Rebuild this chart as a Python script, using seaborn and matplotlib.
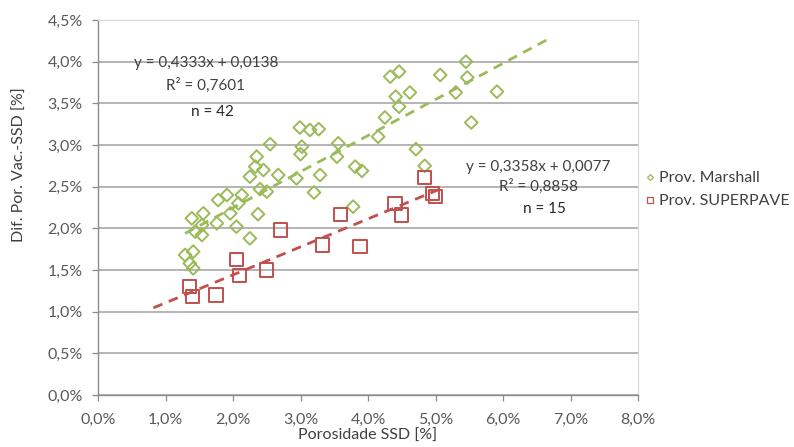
import matplotlib
matplotlib.use("Agg")
import matplotlib.pyplot as plt
import seaborn as sns
import numpy as np
import pandas as pd
from matplotlib.ticker import FuncFormatter, MultipleLocator
from matplotlib.lines import Line2D

# Porosidade SSD [%] vs. diferença de porosidade Vac.-SSD [%]
marshall_x = [5.45, 4.33, 4.46, 5.07, 5.47, 4.41, 4.62, 4.46, 5.30, 5.91,
              4.25, 4.15, 5.53, 4.71, 3.81, 3.91, 4.84, 3.78,
              2.99, 3.14, 3.27, 2.55, 3.02, 3.00, 3.56, 3.54, 2.35, 2.33,
              2.45, 2.25, 2.67, 2.94, 3.29, 3.20, 2.40, 2.50, 2.13, 1.91,
              1.78, 2.08, 1.56, 1.39, 1.96, 2.37, 1.76, 2.05, 1.54, 1.44,
              1.54, 2.25, 1.29, 1.41, 1.36, 1.41]
marshall_y = [4.00, 3.82, 3.88, 3.84, 3.81, 3.58, 3.63, 3.46, 3.63, 3.64,
              3.33, 3.10, 3.27, 2.95, 2.74, 2.69, 2.75, 2.26,
              3.21, 3.18, 3.19, 3.01, 2.98, 2.89, 3.02, 2.86, 2.86, 2.74,
              2.70, 2.62, 2.64, 2.60, 2.64, 2.43, 2.47, 2.44, 2.40, 2.40,
              2.34, 2.30, 2.18, 2.12, 2.18, 2.17, 2.06, 2.02, 2.04, 1.96,
              1.92, 1.88, 1.68, 1.72, 1.58, 1.52]

superpave_x = [1.36, 1.40, 1.75, 2.05, 2.10, 2.50, 2.70, 3.33, 3.59, 3.88,
               4.40, 4.50, 4.84, 4.96, 5.00]
superpave_y = [1.30, 1.18, 1.20, 1.63, 1.43, 1.50, 1.98, 1.80, 2.17, 1.78,
               2.30, 2.16, 2.61, 2.42, 2.38]

# Linear trend lines (slope, intercept as fractions) and their drawn x span [%]
marshall_fit = (0.4333, 0.0138)
superpave_fit = (0.3358, 0.0077)
marshall_span = (1.29, 6.67)
superpave_span = (0.82, 5.07)
marshall_labels = ["y = 0,4333x + 0,0138", "R² = 0,7601", "n = 42"]
superpave_labels = ["y = 0,3358x + 0,0077", "R² = 0,8858", "n = 15"]
series_names = ["Prov. Marshall", "Prov. SUPERPAVE"]

GREEN = "#9BBB59"
RED = "#C0504D"
TICK_COLOR = "#595959"

sns.set_theme(style="white")
plt.rcParams["font.family"] = ["Lato", "DejaVu Sans"]

fig = plt.figure(figsize=(7.94, 4.47), dpi=100)
ax = fig.add_axes([98 / 794, 1 - 395 / 447, 540 / 794, 375 / 447])

df_m = pd.DataFrame({"x": marshall_x, "y": marshall_y})
df_s = pd.DataFrame({"x": superpave_x, "y": superpave_y})


def trend(fit, span):
    xs = np.array(span)
    return pd.DataFrame({"x": xs, "y": fit[0] * xs + fit[1] * 100})


sns.lineplot(data=trend(marshall_fit, marshall_span), x="x", y="y", ax=ax,
             color=GREEN, lw=2.0, dashes=(3.5, 2.5), zorder=2)
sns.lineplot(data=trend(superpave_fit, superpave_span), x="x", y="y", ax=ax,
             color=RED, lw=2.0, dashes=(3.5, 2.5), zorder=2)

sns.scatterplot(data=df_m, x="x", y="y", ax=ax, marker="D", s=42,
                facecolor="none", edgecolor=GREEN, linewidth=1.4, zorder=3)
sns.scatterplot(data=df_s, x="x", y="y", ax=ax, marker="s", s=92,
                facecolor="none", edgecolor=RED, linewidth=1.4, zorder=4)

ax.set_xlim(0, 8)
ax.set_ylim(0, 4.5)
ax.xaxis.set_major_locator(MultipleLocator(1.0))
ax.yaxis.set_major_locator(MultipleLocator(0.5))
fmt = FuncFormatter(lambda v, _: f"{v:.1f}".replace(".", ",") + "%")
ax.xaxis.set_major_formatter(fmt)
ax.yaxis.set_major_formatter(fmt)

ax.yaxis.grid(True, color="#A0A0A0", lw=1.1)
ax.xaxis.grid(False)
ax.set_axisbelow(True)

for side in ("left", "bottom"):
    ax.spines[side].set_color("#8C8C8C")
    ax.spines[side].set_linewidth(1.0)
for side in ("top", "right"):
    ax.spines[side].set_color("#D9D9D9")
    ax.spines[side].set_linewidth(0.9)

ax.tick_params(axis="both", which="major", direction="out", length=4,
               width=0.9, color="#8C8C8C", labelsize=11.5,
               labelcolor=TICK_COLOR, left=True, bottom=True)
ax.tick_params(axis="x", pad=9)
ax.tick_params(axis="y", pad=7)

ax.set_xlabel("Porosidade SSD [%]", fontsize=11.5, color="#404040", labelpad=1)
ax.set_ylabel("")
fig.text(20 / 794, 1 - 165 / 447, "Dif. Por. Vac.-SSD [%]", rotation=90,
         ha="center", va="center", fontsize=11.5, color="#404040")

# Regression annotations
for (x, y), txt in zip([(1.60, 3.98), (1.60, 3.72), (1.70, 3.40)], marshall_labels):
    ax.text(x, y, txt, ha="center", va="center", fontsize=11,
            color="#262626" if txt.startswith("n") else "#404040")
for (x, y), txt in zip([(6.52, 2.74), (6.53, 2.50), (6.61, 2.23)], superpave_labels):
    ax.text(x, y, txt, ha="center", va="center", fontsize=11,
            color="#262626" if txt.startswith("n") else "#404040")

handles = [
    Line2D([], [], ls="none", marker="D", ms=3.0, mfc="none", mec=GREEN, mew=0.9),
    Line2D([], [], ls="none", marker="s", ms=4.5, mfc="none", mec=RED, mew=0.9),
]
fig.legend(handles, series_names, loc="upper left",
           bbox_to_anchor=(645 / 794, 1 - 171 / 447), frameon=False,
           fontsize=11.5, labelcolor="#404040", handlelength=0.6,
           handletextpad=0.3, labelspacing=0.55, borderpad=0, borderaxespad=0)

fig.savefig("out.png", dpi=100)
